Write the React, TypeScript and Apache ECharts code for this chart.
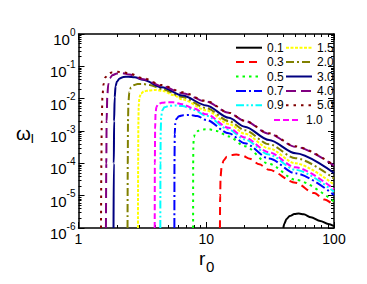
import React, { useEffect, useRef } from "react";
import * as echarts from "echarts";

const FONT = "'Liberation Sans', Arial, Helvetica, sans-serif";

// axis ranges and tick values
const xMin = 1;
const xMax = 100;
const yMin = 1e-6;
const yMax = 1;
const xMajorTicks = [1, 10, 100];
const yMajorTicks = [1e-6, 1e-5, 1e-4, 1e-3, 1e-2, 1e-1, 1];
const minorMultipliers = [2, 3, 4, 5, 6, 7, 8, 9];
const xMinorTicks = xMajorTicks.slice(0, -1).flatMap((d) => minorMultipliers.map((m) => m * d));
const yMinorTicks = yMajorTicks.slice(0, -1).flatMap((d) => minorMultipliers.map((m) => m * d));

// series names (legend labels)
const seriesNames = ["0.1", "0.3", "0.5", "0.7", "0.9", "1.0", "1.5", "2.0", "3.0", "4.0", "5.0"];

// [r0, omega_I]
const s01: [number, number][] = [
  [40.1, 1e-6], [41, 1.4e-6], [42.5, 1.9e-6], [45, 2.35e-6], [49, 2.7e-6], [53, 2.8e-6],
  [58, 2.65e-6], [66, 2.15e-6], [78, 1.65e-6], [90, 1.33e-6], [100, 1.15e-6],
];
const s03: [number, number][] = [
  [12.8, 1e-6], [12.85, 1e-5], [12.95, 4e-5], [13.2, 8e-5], [13.7, 1.25e-4], [14.5, 1.6e-4],
  [15.8, 1.8e-4], [17.2, 1.86e-4], [19, 1.75e-4], [22, 1.38e-4], [26, 9.3e-5], [31, 6.3e-5],
  [50, 2.5e-5], [70, 1.2e-5], [84, 7.6e-6], [100, 5.0e-6],
];
const s05: [number, number][] = [
  [7.89, 1e-6], [7.9, 1e-4], [7.93, 4e-4], [8.0, 6.5e-4], [8.2, 8.6e-4], [8.7, 1.02e-3],
  [9.5, 1.12e-3], [10.5, 1.13e-3], [12, 1.0e-3], [15, 6.8e-4], [20, 3.4e-4], [31, 9.6e-5],
  [50, 3.1e-5], [100, 6.5e-6],
];
const s07: [number, number][] = [
  [5.63, 1e-6], [5.64, 1e-4], [5.67, 8e-4], [5.72, 1.7e-3], [5.85, 2.4e-3], [6.1, 2.85e-3],
  [6.6, 3.08e-3], [7.4, 3.15e-3], [8.5, 2.9e-3], [10, 2.2e-3], [15, 8.5e-4], [20, 4.2e-4],
  [31, 1.41e-4], [50, 4.9e-5], [100, 1.05e-5],
];
const s09: [number, number][] = [
  [4.37, 1e-6], [4.38, 1e-4], [4.4, 1e-3], [4.44, 2.8e-3], [4.52, 4.3e-3], [4.7, 5.4e-3],
  [5.1, 6.0e-3], [5.8, 6.2e-3], [6.5, 5.9e-3], [8, 4.5e-3], [10, 2.95e-3], [15, 1.11e-3],
  [20, 5.5e-4], [31, 1.86e-4], [50, 6.3e-5], [100, 1.32e-5],
];
const s10: [number, number][] = [
  [3.95, 1e-6], [3.96, 1e-4], [3.98, 1.2e-3], [4.01, 3.5e-3], [4.07, 5.5e-3], [4.2, 6.8e-3],
  [4.5, 7.5e-3], [5.0, 7.8e-3], [5.5, 7.7e-3], [6.5, 6.7e-3], [8, 4.95e-3], [10, 3.3e-3],
  [15, 1.25e-3], [20, 6.3e-4], [31, 2.19e-4], [50, 7.5e-5], [100, 1.58e-5],
];
const s15: [number, number][] = [
  [2.92, 1e-6], [2.93, 1e-4], [2.94, 1.5e-3], [2.96, 6e-3], [3.0, 1.1e-2], [3.08, 1.45e-2],
  [3.25, 1.68e-2], [3.55, 1.8e-2], [4.0, 1.85e-2], [4.6, 1.74e-2], [5.5, 1.29e-2], [6.5, 9.5e-3],
  [10, 4.37e-3], [15, 1.66e-3], [20, 8.3e-4], [31, 2.88e-4], [50, 1.0e-4], [100, 2.19e-5],
];
const s20: [number, number][] = [
  [2.42, 1e-6], [2.43, 1e-4], [2.44, 2e-3], [2.46, 8e-3], [2.5, 1.6e-2], [2.57, 2.2e-2],
  [2.7, 2.6e-2], [2.9, 2.82e-2], [3.2, 2.85e-2], [3.6, 2.65e-2], [4.5, 2.0e-2], [6.5, 1.12e-2],
  [10, 5.13e-3], [15, 2.04e-3], [20, 1.06e-3], [31, 3.89e-4], [50, 1.44e-4], [100, 3.39e-5],
];
const s30: [number, number][] = [
  [1.88, 1e-6], [1.89, 1e-4], [1.9, 2e-3], [1.92, 1.1e-2], [1.95, 2.4e-2], [2.0, 3.4e-2],
  [2.1, 4.2e-2], [2.25, 4.7e-2], [2.45, 4.8e-2], [2.75, 4.6e-2], [3.2, 3.85e-2], [4.5, 2.25e-2],
  [6.5, 1.25e-2], [10, 6.17e-3], [15, 2.55e-3], [20, 1.36e-3], [31, 5.25e-4], [50, 2.04e-4],
  [100, 5.0e-5],
];
const s40: [number, number][] = [
  [1.64, 1e-6], [1.65, 1e-4], [1.66, 2e-3], [1.68, 1.2e-2], [1.71, 2.8e-2], [1.76, 4.3e-2],
  [1.85, 5.4e-2], [2.0, 6.0e-2], [2.2, 6.1e-2], [2.5, 5.6e-2], [3.2, 4.0e-2], [4.5, 2.46e-2],
  [6.5, 1.48e-2], [10, 8.1e-3], [15, 3.65e-3], [20, 2.05e-3], [31, 8.2e-4], [50, 3.25e-4],
  [100, 8.5e-5],
];
const s50: [number, number][] = [
  [1.5, 1e-6], [1.51, 1e-4], [1.52, 2e-3], [1.54, 1.2e-2], [1.57, 2.8e-2], [1.62, 4.5e-2],
  [1.7, 5.8e-2], [1.82, 6.5e-2], [2.0, 6.8e-2], [2.2, 6.6e-2], [2.5, 6.0e-2], [3.2, 4.3e-2],
  [4.5, 2.63e-2], [6.5, 1.58e-2], [10, 8.5e-3], [15, 3.7e-3], [20, 2.07e-3], [31, 8.5e-4],
  [50, 3.35e-4], [100, 8.7e-5],
];

const seriesData = [s01, s03, s05, s07, s09, s10, s15, s20, s30, s40, s50];

// styles
const colors = ["#000000", "#ff0000", "#00ff00", "#0000ff", "#00ffff", "#ff00ff", "#ffff00", "#808000", "#000080", "#800080", "#800000"];
const dashes: any[] = ["solid", [8, 5], [2.5, 4], [10, 3, 2, 3], [8, 2.5, 2, 2.5, 2, 2.5], [6, 3], [3, 1.5], [8, 3, 2, 3], "solid", [10, 5], [2.5, 5]];

const legendCol1 = ["0.1", "0.3", "0.5", "0.7", "0.9"];
const legendCol2 = ["1.5", "2.0", "3.0", "4.0", "5.0"];
const legendCol3 = ["1.0"];

function makeAxis(kind: "x" | "y", position: string, ticks: number[], tickLen: number, showLine: boolean, showLabel: boolean) {
  const isX = kind === "x";
  return {
    type: "log",
    logBase: 10,
    min: isX ? xMin : yMin,
    max: isX ? xMax : yMax,
    position,
    gridIndex: 0,
    axisLine: { show: showLine, onZero: false, lineStyle: { color: "#000", width: 1.5 } },
    axisTick: { show: true, inside: true, length: tickLen, customValues: ticks, lineStyle: { color: "#000", width: 1 } },
    axisLabel: showLabel
      ? isX
        ? {
            show: true,
            margin: 4,
            color: "#000",
            fontSize: 14,
            lineHeight: 14,
            fontFamily: FONT,
            customValues: ticks,
            formatter: (v: number) => String(Math.round(v)),
          }
        : {
            show: true,
            margin: 3,
            padding: [6, 0, 0, 0],
            customValues: ticks,
            formatter: (v: number) => `{b|10}{s|${Math.round(Math.log10(v))}}`,
            rich: {
              b: { fontSize: 15, fontFamily: FONT, color: "#000", lineHeight: 20, verticalAlign: "bottom" },
              s: { fontSize: 10, fontFamily: FONT, color: "#000", lineHeight: 10, verticalAlign: "top" },
            },
          }
      : { show: false },
    splitLine: { show: false },
    minorTick: { show: false },
    axisPointer: { show: false },
  };
}

function legendBox(data: string[], left: number, top: number, itemWidth: number) {
  return {
    data,
    orient: "vertical",
    left,
    top,
    padding: 0,
    itemWidth,
    itemHeight: 14,
    itemGap: 0.4,
    selectedMode: false,
    itemStyle: { opacity: 0 },
    textStyle: { fontSize: 12, fontFamily: FONT, color: "#000", lineHeight: 14 },
  };
}

export default function App() {
  const ref = useRef<HTMLDivElement>(null);
  useEffect(() => {
    if (!ref.current) return;
    const chart = echarts.init(ref.current, undefined, { renderer: "svg" });
    chart.setOption({
      animation: false,
      backgroundColor: "#fff",
      grid: { left: 78.5, right: 33, top: 34, bottom: 56, containLabel: false },
      xAxis: [
        makeAxis("x", "bottom", xMajorTicks, 6, true, true),
        makeAxis("x", "bottom", xMinorTicks, 3, false, false),
        makeAxis("x", "top", xMajorTicks, 6, true, false),
        makeAxis("x", "top", xMinorTicks, 3, false, false),
      ],
      yAxis: [
        makeAxis("y", "left", yMajorTicks, 6, true, true),
        makeAxis("y", "left", yMinorTicks, 3, false, false),
        makeAxis("y", "right", yMajorTicks, 6, true, false),
        makeAxis("y", "right", yMinorTicks, 3, false, false),
      ],
      legend: [
        legendBox(legendCol1, 235, 40.7, 26),
        legendBox(legendCol2, 285, 40.7, 26),
        legendBox(legendCol3, 273, 113, 27),
      ],
      series: seriesNames.map((name, i) => ({
        name,
        type: "line",
        xAxisIndex: 0,
        yAxisIndex: 0,
        data: seriesData[i],
        symbol: "none",
        showSymbol: false,
        smooth: 0.3,
        smoothMonotone: "x",
        clip: true,
        silent: true,
        itemStyle: { color: colors[i] },
        lineStyle: { color: colors[i], width: 2, type: dashes[i] },
      })),
      graphic: [
        { type: "text", x: 199, y: 258.4, style: { text: "r", fill: "#000", font: `19px ${FONT}`, lineHeight: 14, textAlign: "left", textVerticalAlign: "middle" } },
        { type: "text", x: 206, y: 266.8, style: { text: "0", fill: "#000", font: `15px ${FONT}`, lineHeight: 12, textAlign: "left", textVerticalAlign: "middle" } },
        { type: "text", x: 16, y: 133.4, style: { text: "ω", fill: "#000", font: `19px ${FONT}`, lineHeight: 14, textAlign: "left", textVerticalAlign: "middle" } },
        { type: "text", x: 30.5, y: 138, style: { text: "I", fill: "#000", font: `13px ${FONT}`, lineHeight: 12, textAlign: "left", textVerticalAlign: "middle" } },
      ],
    });
    return () => chart.dispose();
  }, []);
  return <div ref={ref} style={{ position: "fixed", left: 0, top: 0, width: 367, height: 284, background: "#fff" }} />;
}
